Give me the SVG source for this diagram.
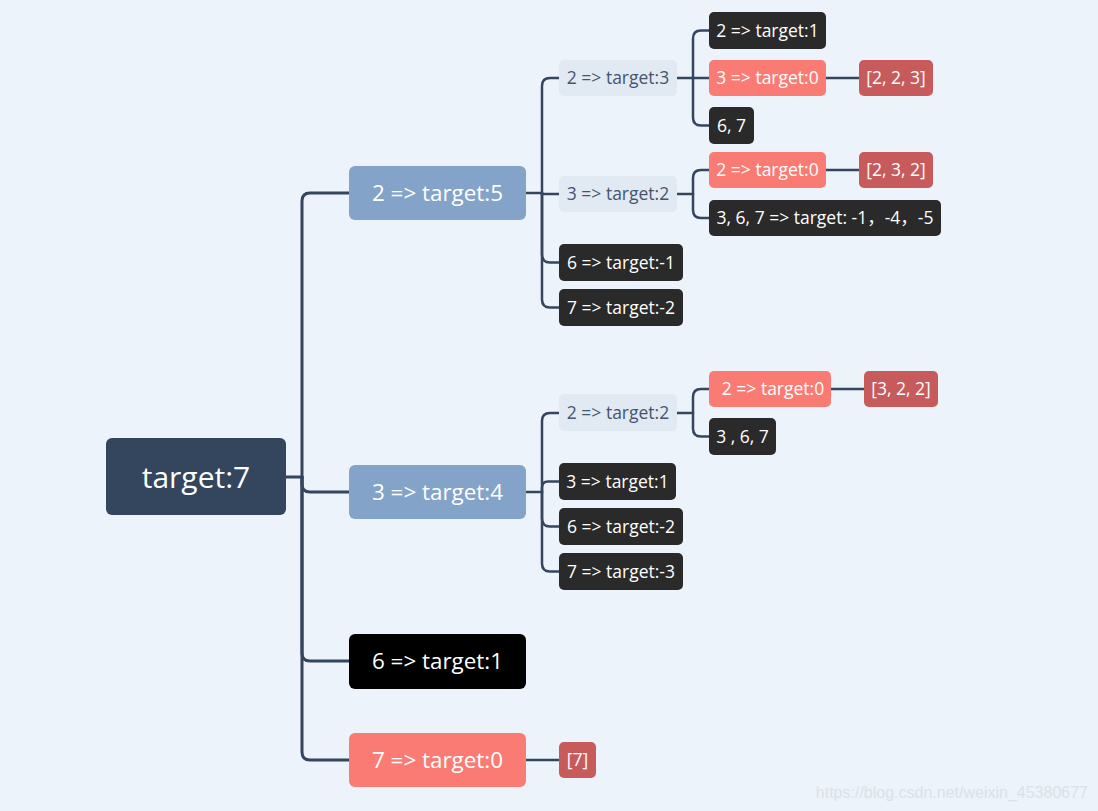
<svg xmlns="http://www.w3.org/2000/svg" width="1098" height="811" viewBox="0 0 1098 811">
<style>
text{font-family:"Open Sans","Noto Sans CJK SC",sans-serif;text-anchor:middle;dominant-baseline:central}
.root rect{fill:#34455E}
.root text{fill:#fff;font-size:30px}
.l1 text{fill:#fff;font-size:22.4px}
.blue{fill:#84A3C9}
.salmon{fill:#FA7B73}
.red{fill:#C75B5C}
.dark{fill:#2A2A2A}
.black{fill:#000}
.light{fill:#E1E9F2}
.sm text{fill:#fff;font-size:17.5px}
.sm.lt text{fill:#45556D}
.conn path{fill:none;stroke:#34455E;stroke-width:2.5;stroke-linecap:round}
.conn path.main{stroke-width:3}
.wm{font-family:"Liberation Sans",Arial,sans-serif;font-size:16px;fill:#dce1e7;text-anchor:end;dominant-baseline:alphabetic}
</style>
<rect width="1098" height="811" fill="#ECF3FA"/>
<g id="connectors" class="conn">
<path class="main" d="M286,477 H302"/>
<path class="main" d="M302,477 V201 Q302,193 310,193 H349"/>
<path class="main" d="M302,477 V484 Q302,492 310,492 H349"/>
<path class="main" d="M302,477 V653 Q302,661 310,661 H349"/>
<path class="main" d="M302,477 V752 Q302,760 310,760 H349"/>
<path d="M526,193 H542"/>
<path d="M542,193 V86 Q542,78 550,78 H559"/>
<path d="M542,193 V194 H559"/>
<path d="M542,193 V254.5 Q542,262.5 550,262.5 H559"/>
<path d="M542,193 V299.5 Q542,307.5 550,307.5 H559"/>
<path d="M526,492 H542"/>
<path d="M542,492 V421 Q542,413 550,413 H559"/>
<path d="M542,492 V487.5 Q542,481.5 548,481.5 H559"/>
<path d="M542,492 V518.5 Q542,526.5 550,526.5 H559"/>
<path d="M542,492 V563.5 Q542,571.5 550,571.5 H559"/>
<path d="M677,78 H693"/>
<path d="M693,78 V38.5 Q693,30.5 701,30.5 H709"/>
<path d="M693,78 H709"/>
<path d="M693,78 V117.5 Q693,125.5 701,125.5 H709"/>
<path d="M826,78 H859"/>
<path d="M677,194 H693"/>
<path d="M693,194 V178 Q693,170 701,170 H709"/>
<path d="M693,194 V210 Q693,218 701,218 H709"/>
<path d="M826,170 H859"/>
<path d="M677,413 H693"/>
<path d="M693,413 V397 Q693,389 701,389 H709"/>
<path d="M693,413 V428.5 Q693,436.5 701,436.5 H709"/>
<path d="M831,389 H864"/>
<path d="M526,760 H559"/>
</g>
<g id="n-root" class="root"><rect x="106" y="438" width="180" height="77" rx="6"/><text x="196" y="476">target:7</text></g>
<g id="n-a" class="l1"><rect class="blue" x="349" y="166" width="177" height="54" rx="6"/><text x="437.5" y="192">2 =&gt; target:5</text></g>
<g id="n-b" class="l1"><rect class="blue" x="349" y="465" width="177" height="54" rx="6"/><text x="437.5" y="491">3 =&gt; target:4</text></g>
<g id="n-c" class="l1"><rect class="black" x="349" y="634" width="177" height="55" rx="6"/><text x="437.5" y="660">6 =&gt; target:1</text></g>
<g id="n-d" class="l1"><rect class="salmon" x="349" y="733" width="177" height="54" rx="6"/><text x="437.5" y="759">7 =&gt; target:0</text></g>
<g id="n-a1" class="sm lt"><rect class="light" x="559" y="60" width="118" height="36" rx="5"/><text x="618" y="77">2 =&gt; target:3</text></g>
<g id="n-a2" class="sm lt"><rect class="light" x="559" y="176" width="118" height="36" rx="5"/><text x="618" y="193">3 =&gt; target:2</text></g>
<g id="n-a3" class="sm"><rect class="dark" x="559" y="244" width="124" height="37" rx="5"/><text x="621" y="261.5">6 =&gt; target:-1</text></g>
<g id="n-a4" class="sm"><rect class="dark" x="559" y="289" width="124" height="37" rx="5"/><text x="621" y="306.5">7 =&gt; target:-2</text></g>
<g id="n-a1a" class="sm"><rect class="dark" x="709" y="12" width="117" height="37" rx="5"/><text x="767.5" y="29.5">2 =&gt; target:1</text></g>
<g id="n-a1b" class="sm"><rect class="salmon" x="709" y="60" width="117" height="36" rx="5"/><text x="767.5" y="77">3 =&gt; target:0</text></g>
<g id="n-a1c" class="sm"><rect class="dark" x="709" y="107" width="45" height="37" rx="5"/><text x="731.5" y="124.5">6, 7</text></g>
<g id="n-a1b1" class="sm"><rect class="red" x="859" y="60" width="74" height="36" rx="5"/><text x="896" y="77">[2, 2, 3]</text></g>
<g id="n-a2a" class="sm"><rect class="salmon" x="709" y="152" width="117" height="36" rx="5"/><text x="767.5" y="169">2 =&gt; target:0</text></g>
<g id="n-a2a1" class="sm"><rect class="red" x="859" y="152" width="74" height="36" rx="5"/><text x="896" y="169">[2, 3, 2]</text></g>
<g id="n-a2b" class="sm"><rect class="dark" x="709" y="200" width="232" height="36" rx="5"/><text x="825" y="217">3, 6, 7 =&gt; target: -1，-4，-5</text></g>
<g id="n-b1" class="sm lt"><rect class="light" x="559" y="394" width="118" height="37" rx="5"/><text x="618" y="411.5">2 =&gt; target:2</text></g>
<g id="n-b2" class="sm"><rect class="dark" x="559" y="463" width="117" height="37" rx="5"/><text x="617.5" y="480.5">3 =&gt; target:1</text></g>
<g id="n-b3" class="sm"><rect class="dark" x="559" y="508" width="124" height="37" rx="5"/><text x="621" y="525.5">6 =&gt; target:-2</text></g>
<g id="n-b4" class="sm"><rect class="dark" x="559" y="553" width="124" height="37" rx="5"/><text x="621" y="570.5">7 =&gt; target:-3</text></g>
<g id="n-b1a" class="sm"><rect class="salmon" x="709" y="371" width="122" height="36" rx="5"/><text x="773" y="388">2 =&gt; target:0</text></g>
<g id="n-b1a1" class="sm"><rect class="red" x="864" y="371" width="74" height="36" rx="5"/><text x="901" y="388">[3, 2, 2]</text></g>
<g id="n-b1b" class="sm"><rect class="dark" x="709" y="418" width="67" height="37" rx="5"/><text x="742.5" y="435.5">3 , 6, 7</text></g>
<g id="n-d1" class="sm"><rect class="red" x="559" y="742" width="37" height="36" rx="5"/><text x="577.5" y="759">[7]</text></g>
<text class="wm" x="1088" y="798">https://blog.csdn.net/weixin_45380677</text>
</svg>
